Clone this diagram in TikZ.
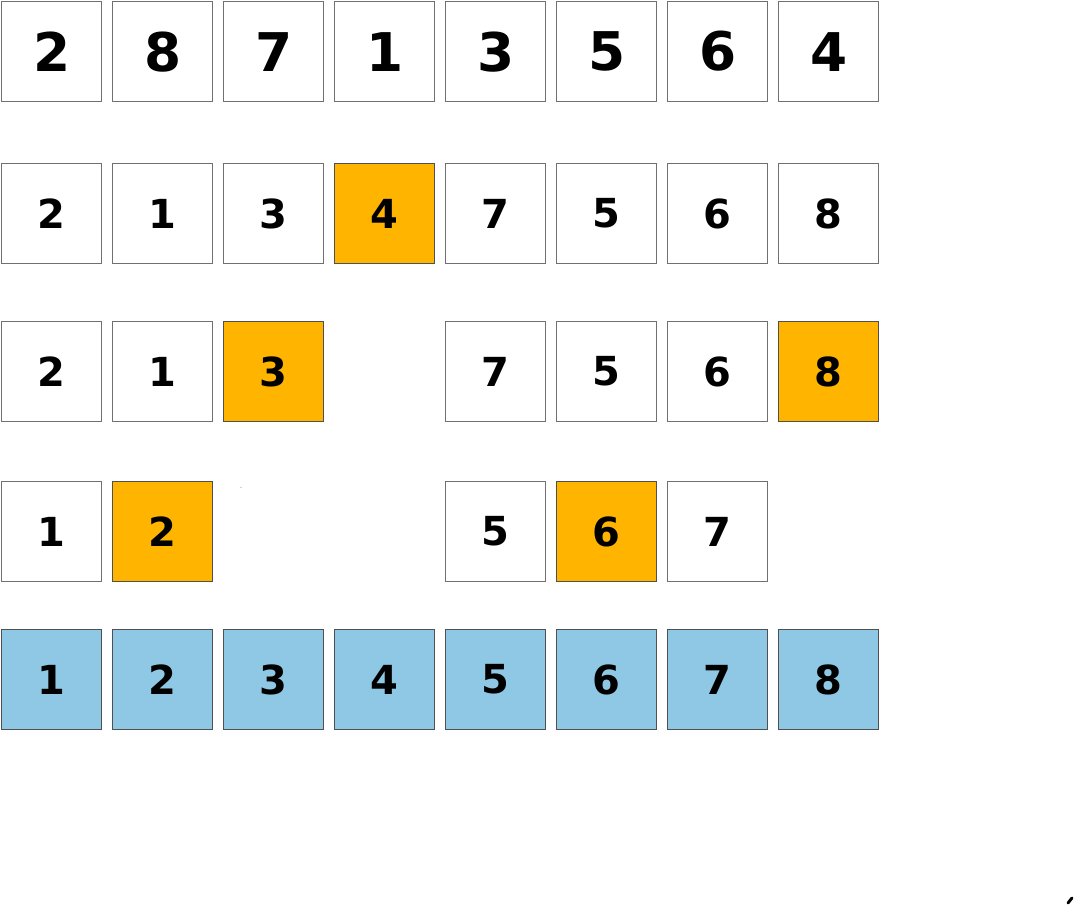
\documentclass[tikz,border=0pt]{standalone}
\usepackage{fontspec}
\newfontfamily\digitfont{DejaVu Sans}
\definecolor{orangefill}{HTML}{FFB400}
\definecolor{bluefill}{HTML}{8EC8E4}
\definecolor{plainborder}{HTML}{707070}
\definecolor{darkborder}{HTML}{505050}
\begin{document}
\begin{tikzpicture}[x=0.75pt,y=-0.75pt,
  cell/.style={draw=plainborder,line width=0.9pt,fill=white,minimum width=75pt,minimum height=75pt,inner sep=0pt,anchor=north west,font=\digitfont\bfseries\fontsize{30}{30}\selectfont},
  bigcell/.style={cell,font=\digitfont\bfseries\fontsize{40}{40}\selectfont},
  pivot/.style={cell,fill=orangefill,draw=darkborder},
  done/.style={cell,fill=bluefill,draw=darkborder}]
\useasboundingbox (0,0) rectangle (1076,907);
% row 1
\foreach \d [count=\i from 0] in {2,8,7,1,3,5,6,4}
  \node[bigcell] (a\i) at ({1+111*\i},1) {\d};
% row 2
\foreach \d/\s [count=\i from 0] in {2/cell,1/cell,3/cell,4/pivot,7/cell,5/cell,6/cell,8/cell}
  \node[\s] (b\i) at ({1+111*\i},163) {\d};
% row 3
\foreach \d/\s/\i in {2/cell/0,1/cell/1,3/pivot/2,7/cell/4,5/cell/5,6/cell/6,8/pivot/7}
  \node[\s] (c\i) at ({1+111*\i},321) {\d};
% row 4
\foreach \d/\s/\i in {1/cell/0,2/pivot/1,5/cell/4,6/pivot/5,7/cell/6}
  \node[\s] (d\i) at ({1+111*\i},481) {\d};
% row 5
\foreach \d [count=\i from 0] in {1,2,3,4,5,6,7,8}
  \node[done] (e\i) at ({1+111*\i},629) {\d};
% stray marks
\fill[gray!70] (241,487.5) circle (0.6);
\draw[line width=2.2pt,line cap=round] (1068,903) -- (1072,898);
\end{tikzpicture}
\end{document}
